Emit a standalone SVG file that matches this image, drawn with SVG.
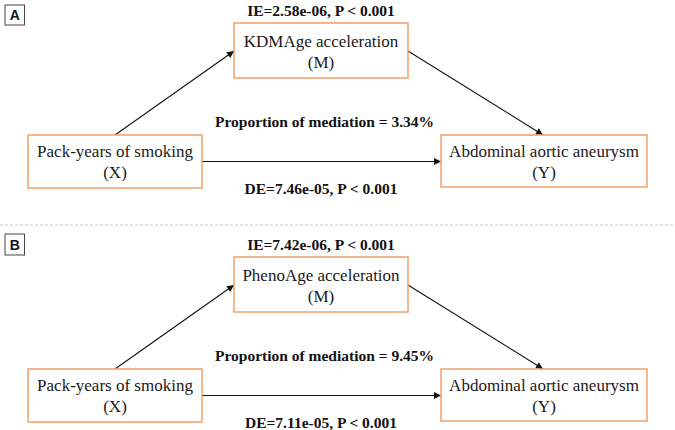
<svg xmlns="http://www.w3.org/2000/svg" width="675" height="430" viewBox="0 0 675 430">
<style>
.bg{fill:#ffffff}
.node rect{fill:#ffffff;stroke:#f4a06a;stroke-width:1.5}
.nt{font-family:"Liberation Serif","Times New Roman",serif;font-size:17px;fill:#1a1a1a;text-anchor:middle}
.lab{font-family:"Liberation Serif","Times New Roman",serif;font-size:15.5px;font-weight:bold;fill:#111;text-anchor:middle}
.edge{stroke:#111;stroke-width:1.1;fill:none;marker-end:url(#ah)}
.pbox{fill:#fff;stroke:#444;stroke-width:1}
.pl{font-family:"Liberation Sans",Arial,sans-serif;font-size:14px;font-weight:bold;fill:#111;text-anchor:middle}
.sep{stroke:#c8c8c8;stroke-width:1;stroke-dasharray:3,2}
</style>
<defs>
<marker id="ah" viewBox="0 0 10 10" refX="10" refY="5" markerWidth="8" markerHeight="7" markerUnits="userSpaceOnUse" orient="auto">
<path d="M0,0 L10,5 L0,10 z" fill="#111"/>
</marker>
</defs>
<rect class="bg" x="0" y="0" width="675" height="430"/>
<line class="sep" x1="0" y1="225" x2="675" y2="225"/>

<g id="panelA">
<g id="labelA"><rect class="pbox" x="5" y="5" width="19.5" height="20"/><text class="pl" x="14.75" y="20">A</text></g>
<g id="connectorsA">
<line class="edge" x1="115" y1="135" x2="234" y2="51"/>
<line class="edge" x1="408" y1="51" x2="543" y2="135"/>
<line class="edge" x1="202" y1="161.5" x2="441" y2="161.5"/>
</g>
<g id="A_M" class="node"><rect x="234" y="23" width="174" height="55"/><text class="nt" x="321" y="47">KDMAge acceleration</text><text class="nt" x="321" y="68">(M)</text></g>
<g id="A_X" class="node"><rect x="28" y="135" width="174" height="53"/><text class="nt" x="115" y="157">Pack-years of smoking</text><text class="nt" x="115" y="178">(X)</text></g>
<g id="A_Y" class="node"><rect x="441" y="135" width="206" height="52"/><text class="nt" x="544" y="157">Abdominal aortic aneurysm</text><text class="nt" x="544" y="178">(Y)</text></g>
<text class="lab" x="321" y="16">IE=2.58e-06, P &lt; 0.001</text>
<text class="lab" x="324.5" y="127">Proportion of mediation = 3.34%</text>
<text class="lab" x="321" y="194">DE=7.46e-05, P &lt; 0.001</text>
</g>

<g id="panelB" transform="translate(0,234)">
<g id="labelB"><rect class="pbox" x="5" y="0" width="19.5" height="21"/><text class="pl" x="14.75" y="15.5">B</text></g>
<g id="connectorsB">
<line class="edge" x1="115" y1="135" x2="234" y2="51"/>
<line class="edge" x1="408" y1="51" x2="543" y2="135"/>
<line class="edge" x1="202" y1="161.5" x2="441" y2="161.5"/>
</g>
<g id="B_M" class="node"><rect x="234" y="23" width="174" height="55"/><text class="nt" x="321" y="47">PhenoAge acceleration</text><text class="nt" x="321" y="68">(M)</text></g>
<g id="B_X" class="node"><rect x="28" y="135" width="174" height="53"/><text class="nt" x="115" y="157">Pack-years of smoking</text><text class="nt" x="115" y="178">(X)</text></g>
<g id="B_Y" class="node"><rect x="441" y="135" width="206" height="52"/><text class="nt" x="544" y="157">Abdominal aortic aneurysm</text><text class="nt" x="544" y="178">(Y)</text></g>
<text class="lab" x="321" y="16">IE=7.42e-06, P &lt; 0.001</text>
<text class="lab" x="324.5" y="127">Proportion of mediation = 9.45%</text>
<text class="lab" x="321" y="194">DE=7.11e-05, P &lt; 0.001</text>
</g>
</svg>
